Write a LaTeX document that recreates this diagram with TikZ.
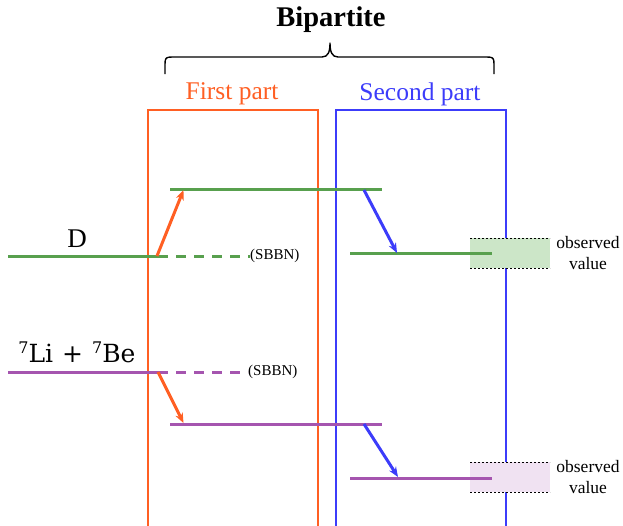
\documentclass[tikz,border=0pt]{standalone}
\usepackage{fontspec}
\setmainfont{Liberation Serif}
\newfontfamily\labfont{DejaVu Serif}
\usetikzlibrary{arrows.meta}
\definecolor{lgreen}{RGB}{88,160,78}
\definecolor{lpurple}{RGB}{165,85,175}
\definecolor{lorange}{RGB}{255,95,35}
\definecolor{lblue}{RGB}{60,60,250}
\definecolor{gfill}{RGB}{204,230,200}
\definecolor{pfill}{RGB}{240,226,242}
\tikzset{
  level/.style={line width=3pt},
  jump/.style={line width=3pt,-{Stealth[length=10pt,width=8pt]}},
  obsline/.style={dashed,dash pattern=on 2pt off 2pt,line width=0.9pt,black},
  small/.style={font=\fontsize{15}{16}\selectfont,inner sep=0pt},
  obs/.style={font=\fontsize{17.5}{21}\selectfont,align=center,inner sep=0pt},
}
\begin{document}
\begin{tikzpicture}[x=1pt,y=-1pt]
\useasboundingbox (0,0) rectangle (623,525);
\begin{scope}
\clip (0,0) rectangle (623,525);
% title and brace
\node[font=\bfseries\fontsize{28.5}{30}\selectfont] (title) at (331,20) {Bipartite};
\coordinate (bl) at (165,74);
\coordinate (br) at (494,74);
\coordinate (btip) at (330,43);
\draw[line width=1.4pt,line join=round] (bl) -- (165,64) .. controls (165,58) and (166,57) .. (172,57)
  -- (322,57) .. controls (328,57) and (330,52) .. (btip)
  .. controls (330,52) and (332,57) .. (338,57) -- (487,57)
  .. controls (493,57) and (494,58) .. (494,64) -- (br);
\node[lorange,font=\fontsize{25.5}{27}\selectfont] (fp) at (232,94) {First part};
\node[lblue,font=\fontsize{25.5}{27}\selectfont] (sp) at (420,94) {Second part};
% part boxes
\draw[lorange,line width=1.5pt] (148,540) -- (148,110) -- (318,110) -- (318,540);
\draw[lblue,line width=1.5pt] (336,540) -- (336,110) -- (506,110) -- (506,540);
% observed boxes
\fill[gfill] (470,238) rectangle (550,268);
\draw[obsline] (470,238) -- (550,238);
\draw[obsline] (470,268) -- (550,268);
\fill[pfill] (470,462) rectangle (550,492);
\draw[obsline] (470,462) -- (550,462);
\draw[obsline] (470,492) -- (550,492);
\node[obs] (ov1) at (588,253) {observed\\value};
\node[obs] (ov2) at (588,477) {observed\\value};
% D levels
\coordinate (d0) at (8,256);
\coordinate (d1) at (158,256);
\coordinate (d2) at (250,256);
\coordinate (u1) at (170,189);
\coordinate (u2) at (382,189);
\coordinate (f1) at (350,253);
\coordinate (f2) at (492,253);
\draw[level,lgreen] (d0) -- (d1);
\draw[level,lgreen,dash pattern=on 10pt off 8pt] (d1) -- (d2);
\draw[level,lgreen] (u1) -- (u2);
\draw[level,lgreen] (f1) -- (f2);
\node[small,anchor=west] (s1) at (d2) {(SBBN)};
\node[font=\fontsize{27}{29}\selectfont] (D) at (77,239) {D};
\draw[jump,lorange] (157,256) -- (183.5,190);
\draw[jump,lblue] (364,190) -- (397,253);
% Li levels
\coordinate (l0) at (8,372);
\coordinate (l1) at (158,372);
\coordinate (l2) at (248,372);
\coordinate (m1) at (170,424);
\coordinate (m2) at (382,424);
\coordinate (g1) at (350,478);
\coordinate (g2) at (492,478);
\draw[level,lpurple] (l0) -- (l1);
\draw[level,lpurple,dash pattern=on 10pt off 8pt] (l1) -- (l2);
\draw[level,lpurple] (m1) -- (m2);
\draw[level,lpurple] (g1) -- (g2);
\node[small,anchor=west] (s2) at (l2) {(SBBN)};
\node[font=\labfont\fontsize{25}{28}\selectfont] (Li) at (77,352) {\raisebox{9pt}{\fontsize{16}{17}\selectfont 7}Li\hspace{9pt}+\hspace{9pt}\raisebox{9pt}{\fontsize{16}{17}\selectfont 7}Be};
\draw[jump,lorange] (158,372) -- (183.5,423);
\draw[jump,lblue] (364,424) -- (398,477);
\end{scope}
\end{tikzpicture}
\end{document}
